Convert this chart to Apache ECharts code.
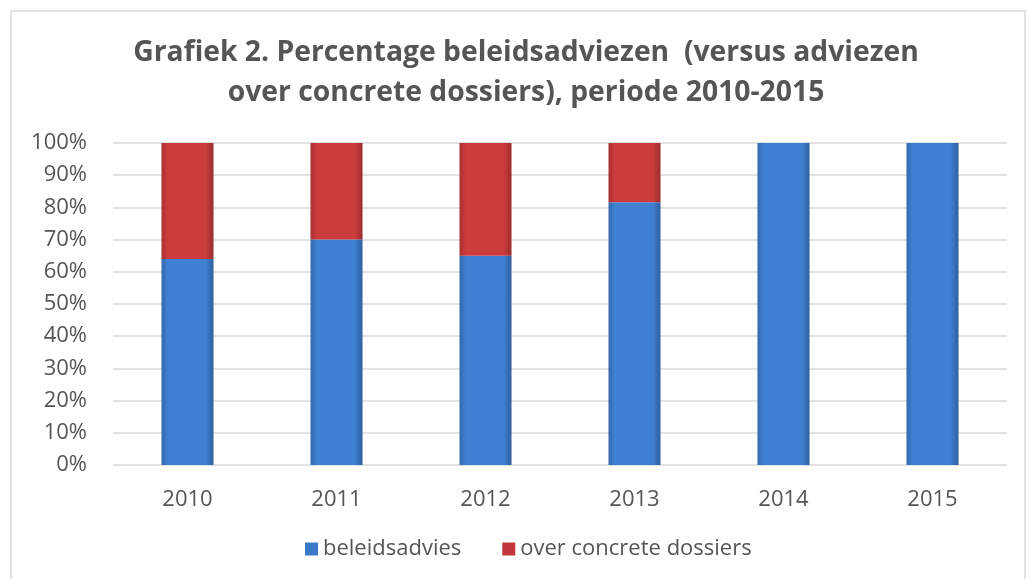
<!DOCTYPE html>
<html><head><meta charset="utf-8">
<script src="https://cdn.jsdelivr.net/npm/echarts@6/dist/echarts.min.js"></script>
<style>html,body{margin:0;padding:0;background:#fff}#c{width:1030px;height:579px}</style>
</head><body><div id="c"></div>
<script>
const categories = ['2010','2011','2012','2013','2014','2015'];
const beleidsadvies = [64, 70, 65, 81.6, 100, 100];
const concreteDossiers = [36, 30, 35, 18.4, 0, 0];
const yTicks = [0,10,20,30,40,50,60,70,80,90,100];
const titleText = 'Grafiek 2. Percentage beleidsadviezen  (versus adviezen\nover concrete dossiers), periode 2010-2015';

const chart = echarts.init(document.getElementById('c'), null, {renderer:'canvas'});
const font = '"Open Sans", sans-serif';
function grad(edge, mid, edge2){
  return new echarts.graphic.LinearGradient(0,0,1,0,[
    {offset:0, color:edge},{offset:0.12, color:mid},{offset:0.85, color:mid},{offset:1, color:edge2}
  ]);
}
chart.setOption({
  animation:false,
  backgroundColor:'#fff',
  graphic:[
    {type:'rect', shape:{x:11,y:11,width:1014,height:575}, style:{fill:'none', stroke:'#d9d9d9', lineWidth:1.5}, silent:true},
    {type:'text', x:526, y:33, silent:true,
     style:{text:titleText, textAlign:'center', textVerticalAlign:'top', fontFamily:font, fontWeight:'bold', fontSize:28.3, lineHeight:40, fill:'#555555'}}
  ],
  grid:{left:113, right:23, top:143, bottom:114},
  legend:{
    bottom:14, left:300, itemWidth:13, itemHeight:13, itemGap:41,
    icon:'rect',
    textStyle:{fontFamily:font, fontSize:22, color:'#555555'},
    data:[{name:'beleidsadvies', itemStyle:{color:'#3c78c8'}},{name:'over concrete dossiers', itemStyle:{color:'#c0363a'}}]
  },
  xAxis:{
    type:'category', data:categories,
    axisLine:{show:false}, axisTick:{show:false},
    axisLabel:{fontFamily:font, fontSize:22, color:'#555555', margin:24}
  },
  yAxis:{
    type:'value', min:0, max:100, interval:10,
    axisLabel:{fontFamily:font, fontSize:22, color:'#555555', margin:26, formatter: v => yTicks.includes(v) ? v + '%' : ''},
    splitLine:{lineStyle:{color:'#d9d9d9', width:1.5}},
    axisLine:{show:false}, axisTick:{show:false}
  },
  series:[
    {name:'beleidsadvies', type:'bar', stack:'a', data:beleidsadvies, barWidth:52,
     itemStyle:{color:grad('#3468ad','#3f80d2','#2f5e9e')}},
    {name:'over concrete dossiers', type:'bar', stack:'a', data:concreteDossiers, barWidth:52,
     itemStyle:{color:grad('#a83032','#cc3c3c','#9c2c2e')}}
  ]
});
</script></body></html>
